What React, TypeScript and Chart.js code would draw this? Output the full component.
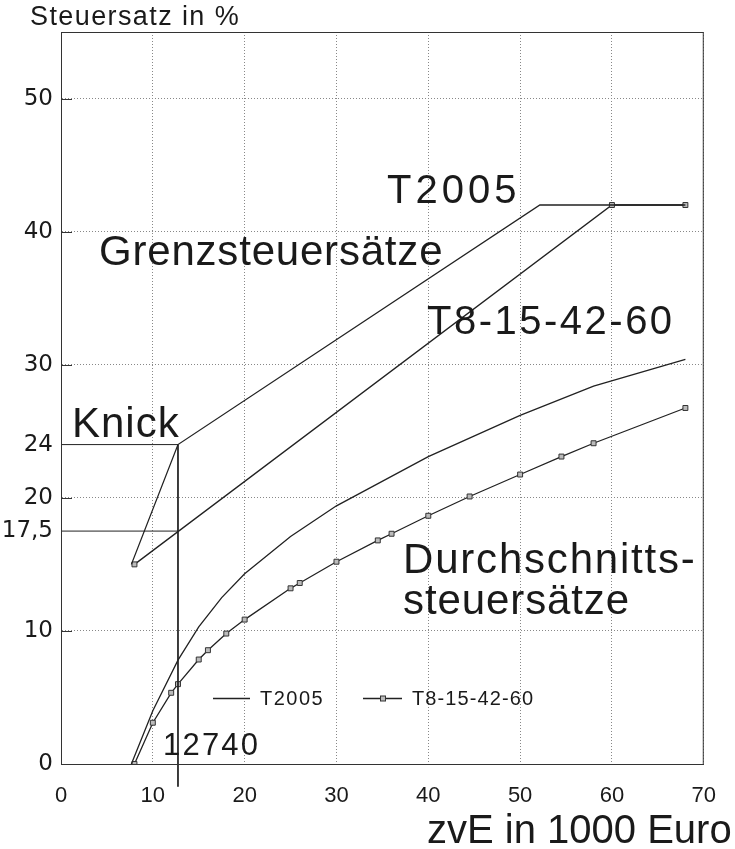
import React, { useEffect, useRef } from "react";
import { Chart, registerables } from "chart.js";

Chart.register(...registerables);

// ---- data ----
const margT2005X = [7.664, 12.74, 52.152, 68];
const margT2005Y = [15, 24, 42, 42];

const margT8X = [8, 60, 68];
const margT8Y = [15, 42, 42];

const avgT2005X = [7.664, 10, 12.74, 15, 17.5, 20, 25, 30, 40, 50, 58, 68];
const avgT2005Y = [0, 4.0, 7.8, 10.3, 12.5, 14.3, 17.1, 19.4, 23.1, 26.2, 28.4, 30.4];

const avgT8X = [8, 10, 12, 12.74, 15, 16, 18, 20, 25, 26, 30, 34.5, 36, 40, 44.5, 50, 54.5, 58, 68];
const avgT8Y = [0, 3.1, 5.35, 6.0, 7.85, 8.55, 9.8, 10.85, 13.2, 13.6, 15.2, 16.8, 17.3, 18.65, 20.1, 21.75, 23.1, 24.1, 26.75];

const knickX = 12.74;
const knickRates = [24, 17.5];
const knickBottom = -1.7;

const yTickValues = [0, 10, 17.5, 20, 24, 30, 40, 50];
const xTickStep = 10;

const legendLabels = ["T2005", "T8-15-42-60"];

const FONT = '"Liberation Sans", Arial, sans-serif';
const TICK_FONT_Y = '"DejaVu Sans", sans-serif';
const INK = "#1a1a1a";

const toPts = (xs: number[], ys: number[]) => xs.map((x, i) => ({ x, y: ys[i] }));

const annotationPlugin = {
  id: "annotations",
  afterDraw(chart: any) {
    const ctx = chart.ctx as CanvasRenderingContext2D;
    const a = chart.chartArea;
    const ys = chart.scales.y;
    ctx.save();
    // frame
    ctx.strokeStyle = "#333";
    ctx.lineWidth = 1;
    ctx.strokeRect(a.left + 0.5, a.top + 0.5, a.right - a.left - 1, a.bottom - a.top);
    // inner ticks on y axis
    ctx.beginPath();
    for (const v of [10, 20, 30, 40, 50]) {
      const py = Math.round(ys.getPixelForValue(v)) + 0.5;
      ctx.moveTo(a.left, py);
      ctx.lineTo(a.left + 11, py);
    }
    ctx.stroke();

    const txt = (s: string, x: number, y: number, size: number, ls: number) => {
      ctx.font = `${size}px ${FONT}`;
      (ctx as any).letterSpacing = `${ls}px`;
      ctx.fillStyle = INK;
      ctx.textAlign = "left";
      ctx.textBaseline = "alphabetic";
      ctx.fillText(s, x, y);
    };
    txt("Steuersatz in %", 30, 25, 27, 1.4);
    txt("zvE in 1000 Euro", 427, 843, 40, 0);
    txt("T2005", 387, 203, 40, 4);
    txt("Grenzsteuersätze", 99, 265, 42, 0.8);
    txt("T8-15-42-60", 427, 334, 40, 2.5);
    txt("Knick", 72, 437, 42, 1);
    txt("Durchschnitts-", 403, 573, 42, 1.8);
    txt("steuersätze", 403, 614, 42, 0.9);
    txt("12740", 163, 755, 31, 2.2);

    // legend
    ctx.strokeStyle = "#222";
    ctx.lineWidth = 1.3;
    ctx.beginPath();
    ctx.moveTo(213, 698.5);
    ctx.lineTo(250, 698.5);
    ctx.moveTo(363, 698.5);
    ctx.lineTo(402, 698.5);
    ctx.stroke();
    ctx.fillStyle = "#bbb";
    ctx.strokeStyle = "#333";
    ctx.lineWidth = 1;
    ctx.fillRect(380.5, 696, 5, 5);
    ctx.strokeRect(380.5, 696, 5, 5);
    txt(legendLabels[0], 260, 705, 20, 1.5);
    txt(legendLabels[1], 412, 705, 20, 1.1);
    ctx.restore();
  },
};

export default function App() {
  const ref = useRef<HTMLCanvasElement | null>(null);
  useEffect(() => {
    if (!ref.current) return;
    const lineDs = (data: any[], markers: boolean, extra: any = {}) => ({
      data,
      borderColor: "#222",
      borderWidth: 1.3,
      tension: 0,
      pointRadius: markers ? 3.5 : 0,
      pointStyle: "rect",
      pointBackgroundColor: "#bbb",
      pointBorderColor: "#333",
      pointBorderWidth: 1,
      fill: false,
      ...extra,
    });
    const chart = new Chart(ref.current, {
      type: "line",
      data: {
        datasets: [
          lineDs([{ x: 0, y: knickRates[0] }, { x: knickX, y: knickRates[0] }], false, { borderWidth: 1 }),
          lineDs([{ x: 0, y: knickRates[1] }, { x: knickX, y: knickRates[1] }], false, { borderWidth: 1 }),
          lineDs([{ x: knickX, y: knickRates[0] }, { x: knickX, y: knickBottom }], false, { borderWidth: 1, clip: false }),
          lineDs(toPts(margT2005X, margT2005Y), false),
          lineDs(toPts(margT8X, margT8Y), true),
          lineDs(toPts(avgT2005X, avgT2005Y), false),
          lineDs(toPts(avgT8X, avgT8Y), true),
        ],
      },
      options: {
        animation: false,
        responsive: false,
        devicePixelRatio: 1,
        layout: { padding: { left: 0, top: 32, right: 23, bottom: 0 } },
        plugins: { legend: { display: false }, tooltip: { enabled: false }, title: { display: false } },
        scales: {
          x: {
            type: "linear",
            min: 0,
            max: 70,
            ticks: {
              stepSize: xTickStep,
              padding: 19,
              color: INK,
              font: { family: FONT, size: 22 },
              maxRotation: 0,
            },
            grid: { color: "#888", lineWidth: 1, drawTicks: false },
            border: { display: true, color: "#333", width: 1, dash: [1, 2] },
            afterFit: (s: any) => {
              s.height = 85;
            },
          },
          y: {
            type: "linear",
            min: 0,
            max: 55,
            afterBuildTicks: (s: any) => {
              s.ticks = yTickValues.map((v) => ({ value: v }));
            },
            ticks: {
              padding: 8,
              color: INK,
              font: { family: TICK_FONT_Y, size: 23 },
              callback: (v: any) => String(v).replace(".", ","),
            },
            grid: {
              color: (c: any) =>
                c.tick && (c.tick.value === 17.5 || c.tick.value === 24) ? "rgba(0,0,0,0)" : "#888",
              lineWidth: 1,
              drawTicks: false,
            },
            border: { display: true, color: "#333", width: 1, dash: [1, 2] },
            afterFit: (s: any) => {
              s.width = 61;
            },
          },
        },
      },
      plugins: [annotationPlugin],
    } as any);
    return () => chart.destroy();
  }, []);
  return (
    <div style={{ position: "absolute", left: 0, top: 0, width: 735, height: 849, background: "#fff" }}>
      <canvas ref={ref} width={735} height={849} style={{ width: 735, height: 849, display: "block" }} />
    </div>
  );
}
